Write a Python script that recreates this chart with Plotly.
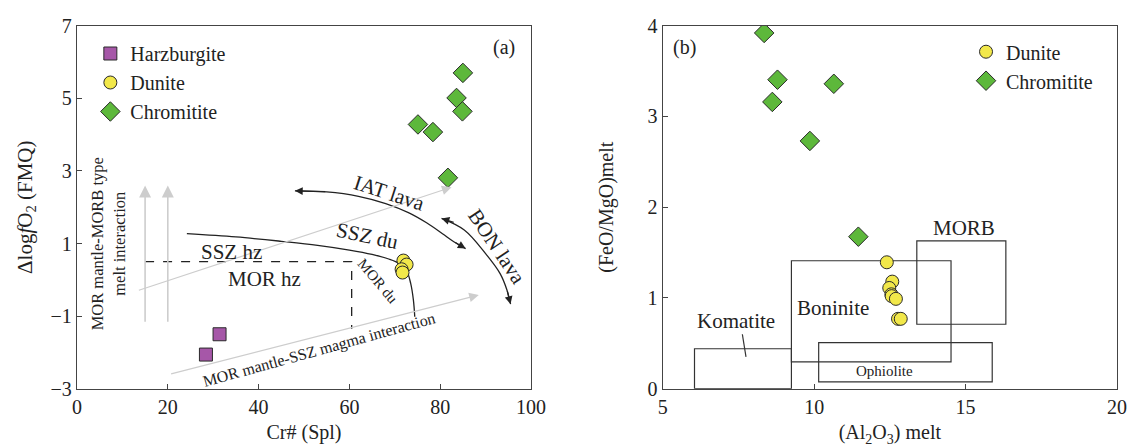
import plotly.graph_objects as go

FONT = "Liberation Serif"
INK = "#222222"
AXC = "#444444"
GRAY = "#cdcdcd"

# ---------------- Panel (a) data ----------------
harz_cr = [28.4, 31.4]
harz_fo2 = [-2.06, -1.50]
dun_cr = [71.9, 72.6, 71.5, 71.7]
dun_fo2 = [0.53, 0.42, 0.29, 0.20]
chr_cr = [85.0, 83.6, 84.9, 75.1, 78.4, 81.7]
chr_fo2 = [5.70, 5.01, 4.64, 4.28, 4.07, 2.81]

# field boundaries (panel a)
ssz_mor_x = [24.2, 35, 45, 53, 60, 65, 68.5, 71, 72.6, 73.5, 74.1, 74.4]
ssz_mor_y = [1.27, 1.18, 1.06, 0.95, 0.82, 0.70, 0.58, 0.45, 0.25, -0.10, -0.56, -1.02]
morhz_x = [15, 60.5, 60.5]
morhz_y = [0.5, 0.5, -1.35]
iat_x = [48, 55, 62, 68, 73, 77, 80.5, 83, 85.6]
iat_y = [2.45, 2.42, 2.30, 2.10, 1.85, 1.57, 1.27, 1.05, 0.86]
bon_x = [80.3, 85.3, 90.0, 93.2, 94.7, 95.5]
bon_y = [1.69, 1.37, 0.72, 0.17, -0.28, -0.67]

# ---------------- Panel (b) data ----------------
chr_al = [8.35, 8.79, 8.62, 10.65, 9.86, 11.46]
chr_fm = [3.92, 3.405, 3.16, 3.36, 2.73, 1.675]
dun_al = [12.40, 12.58, 12.48, 12.55, 12.56, 12.70, 12.77, 12.86]
dun_fm = [1.393, 1.18, 1.11, 1.04, 1.02, 0.99, 0.77, 0.77]

# melt fields (x0, x1, y0, y1)
fields = {
    "Komatite": [6.05, 9.25, 0.0, 0.44],
    "Boninite": [9.25, 14.52, 0.295, 1.41],
    "Ophiolite": [10.15, 15.88, 0.075, 0.508],
    "MORB": [13.39, 16.33, 0.71, 1.63],
}

C_HARZ = "#a657a8"
C_DUN = "#f2e84a"
C_CHR = "#5db83b"
EDGE = dict(color="#2a2a2a", width=1)

fig = go.Figure()

# boundary lines panel a
for xs, ys, dash, shp in [(ssz_mor_x, ssz_mor_y, "solid", "spline"), (morhz_x, morhz_y, "dash", "linear"),
                          (iat_x, iat_y, "solid", "spline"), (bon_x, bon_y, "solid", "spline")]:
    fig.add_trace(go.Scatter(x=xs, y=ys, mode="lines", line=dict(color=INK, width=1.3, shape=shp, dash=dash),
                             showlegend=False, hoverinfo="skip", xaxis="x", yaxis="y"))

# data panel a
fig.add_trace(go.Scatter(x=harz_cr, y=harz_fo2, mode="markers", name="Harzburgite",
                         marker=dict(symbol="square", size=13, color=C_HARZ, line=EDGE),
                         xaxis="x", yaxis="y", legend="legend"))
fig.add_trace(go.Scatter(x=dun_cr, y=dun_fo2, mode="markers", name="Dunite",
                         marker=dict(symbol="circle", size=13, color=C_DUN, line=EDGE),
                         xaxis="x", yaxis="y", legend="legend"))
fig.add_trace(go.Scatter(x=chr_cr, y=chr_fo2, mode="markers", name="Chromitite",
                         marker=dict(symbol="diamond", size=15, color=C_CHR, line=EDGE),
                         xaxis="x", yaxis="y", legend="legend"))

# data panel b
fig.add_trace(go.Scatter(x=dun_al, y=dun_fm, mode="markers", name="Dunite",
                         marker=dict(symbol="circle", size=13, color=C_DUN, line=EDGE),
                         xaxis="x2", yaxis="y2", legend="legend2"))
fig.add_trace(go.Scatter(x=chr_al, y=chr_fm, mode="markers", name="Chromitite",
                         marker=dict(symbol="diamond", size=15, color=C_CHR, line=EDGE),
                         xaxis="x2", yaxis="y2", legend="legend2"))

shapes = []
for nm, (x0, x1, y0, y1) in fields.items():
    shapes.append(dict(type="rect", xref="x2", yref="y2", x0=x0, x1=x1, y0=y0, y1=y1,
                       line=dict(color="#333333", width=1.2), layer="below"))
shapes.append(dict(type="line", xref="x2", yref="y2", x0=7.63, y0=0.60, x1=7.75, y1=0.35,
                   line=dict(color="#333333", width=1.2)))

ann = []
def txt(x, y, s, size=21, angle=0, xr="x", yr="y", **kw):
    ann.append(dict(x=x, y=y, xref=xr, yref=yr, text=s, showarrow=False, textangle=angle,
                    font=dict(family=FONT, size=size, color=INK), **kw))

def arrow(x, y, ax, ay, color=INK, head=2, size=1.0, width=1.3, xr="x", yr="y"):
    ann.append(dict(x=x, y=y, ax=ax, ay=ay, xref=xr, yref=yr, axref=xr, ayref=yr, text="",
                    showarrow=True, arrowhead=head, arrowsize=size, arrowwidth=width, arrowcolor=color))

# gray interaction arrows
arrow(15, 2.6, 15, -1.2, color=GRAY, head=2, size=1.5, width=1.6)
arrow(20, 2.6, 20, -1.2, color=GRAY, head=2, size=1.5, width=1.6)
arrow(82.5, 2.55, 13.3, -0.3, color=GRAY, head=2, size=1.6, width=1.2)
arrow(88.5, -0.42, 20.4, -2.6, color=GRAY, head=2, size=1.6, width=1.2)
# black curve arrowheads
arrow(iat_x[0], iat_y[0], iat_x[1], iat_y[1] + 0.01, head=2, size=1.2, width=1.3)
arrow(iat_x[-1], iat_y[-1], iat_x[-2], iat_y[-2], head=2, size=1.2, width=1.3)
arrow(bon_x[0], bon_y[0], bon_x[1] - 2.0, bon_y[1] + 0.2, head=2, size=1.2, width=1.3)
arrow(bon_x[-1], bon_y[-1], bon_x[-2], bon_y[-2], head=2, size=1.2, width=1.3)

# panel a labels
txt(94.1, 6.39, "(a)", size=20)
txt(68.8, 2.40, "IAT lava", angle=18)
txt(64.0, 1.20, "SSZ du", angle=12)
txt(34.0, 0.77, "SSZ hz")
txt(41.4, 0.01, "MOR hz")
txt(66.2, -0.04, "MOR du", size=15, angle=50)
txt(92.5, 0.90, "BON lava", angle=56)
txt(53.4, -1.94, "MOR mantle-SSZ magma interaction", size=16, angle=-15.5)
txt(6.8, 1.0, "MOR mantle-MORB type<br>melt interaction", size=16.5, angle=-90)

# panel b labels
txt(5.72, 3.76, "(b)", size=20, xr="x2", yr="y2")
txt(7.42, 0.75, "Komatite", xr="x2", yr="y2")
txt(10.63, 0.885, "Boninite", xr="x2", yr="y2")
txt(12.33, 0.20, "Ophiolite", size=15, xr="x2", yr="y2")
txt(14.94, 1.77, "MORB", xr="x2", yr="y2")

axis_common = dict(showline=True, linecolor=AXC, linewidth=1.3, mirror=True, ticks="inside",
                   ticklen=5, tickcolor=AXC, tickwidth=1.2, showgrid=False, zeroline=False,
                   tickfont=dict(family=FONT, size=20, color=INK), automargin=False,
                   ticklabeloverflow="allow")

ydom = [0.13237, 0.94263]
fig.update_layout(
    width=1128, height=448,
    margin=dict(l=0, r=0, t=0, b=0),
    paper_bgcolor="white", plot_bgcolor="white",
    font=dict(family=FONT, color=INK),
    xaxis=dict(domain=[0.06826, 0.47074], range=[0, 100], tickvals=[0, 20, 40, 60, 80, 100],
               anchor="y", title=dict(text="Cr# (Spl)", font=dict(family=FONT, size=20), standoff=8),
               **axis_common),
    yaxis=dict(domain=ydom, range=[-3, 7], tickvals=[-3, -1, 1, 3, 5, 7], anchor="x",
               title=dict(text="Δlog<i>f</i>O<sub>2</sub> (FMQ)", font=dict(family=FONT, size=21), standoff=12),
               **axis_common),
    xaxis2=dict(domain=[0.58750, 0.99025], range=[5, 20], tickvals=[5, 10, 15, 20], anchor="y2",
                title=dict(text="(Al<sub>2</sub>O<sub>3</sub>) melt", font=dict(family=FONT, size=20), standoff=8),
                **axis_common),
    yaxis2=dict(domain=ydom, range=[0, 4], tickvals=[0, 1, 2, 3, 4], anchor="x2",
                title=dict(text="(FeO/MgO)melt", font=dict(family=FONT, size=20), standoff=28),
                **axis_common),
    legend=dict(x=0.0801, y=0.9241, xanchor="left", yanchor="top", bgcolor="rgba(0,0,0,0)",
                font=dict(family=FONT, size=20, color=INK), itemwidth=30, tracegroupgap=0),
    legend2=dict(x=0.8564, y=0.9281, xanchor="left", yanchor="top", bgcolor="rgba(0,0,0,0)",
                 font=dict(family=FONT, size=20, color=INK), itemwidth=30, tracegroupgap=0),
    shapes=shapes,
    annotations=ann,
)

fig.write_html("out.html", config={"displayModeBar": False},
               post_script="document.body.style.margin='0';document.body.style.overflow='hidden';")
